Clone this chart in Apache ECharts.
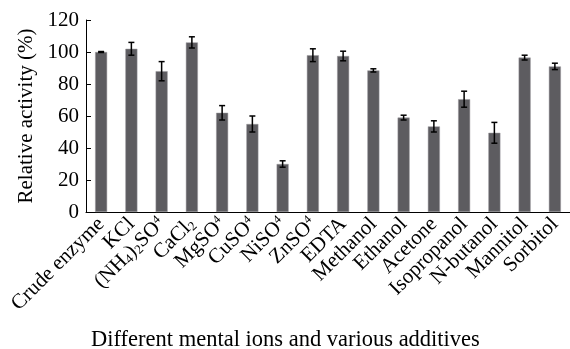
<!DOCTYPE html>
<html>
<head>
<meta charset="utf-8">
<script src="https://cdn.jsdelivr.net/npm/echarts@6/dist/echarts.min.js"></script>
<style>
    html, body { margin: 0; padding: 0; background: #fff; }
    #myChart { width: 570px; height: 349px; }
</style>
</head>
<body>
<div id="myChart"></div>
<script>
var categories = ['Crude enzyme', 'KCl', '(NH4)2SO4', 'CaCl2', 'MgSO4', 'CuSO4', 'NiSO4', 'ZnSO4',
    'EDTA', 'Methanol', 'Ethanol', 'Acetone', 'Isopropanol', 'N-butanol', 'Mannitol', 'Sorbitol'];
var activity = [100, 102, 88, 106, 62, 55, 30, 98, 97.5, 88.5, 59, 53.5, 70.5, 49.5, 96.5, 91];
var errors = [0.3, 4, 6, 3.5, 4.5, 5, 2, 4, 3, 1, 1.5, 3.5, 5, 6.5, 1.5, 2];
var yTicks = [0, 20, 40, 60, 80, 100, 120];

// 化学式的上下标
var richLabels = {
    '(NH4)2SO4': '(NH{sub|4}){sub|2}SO{sup|4}',
    'CaCl2': 'CaCl{sub|2}',
    'MgSO4': 'MgSO{sup|4}',
    'CuSO4': 'CuSO{sup|4}',
    'NiSO4': 'NiSO{sup|4}',
    'ZnSO4': 'ZnSO{sup|4}'
};

var font = '"Liberation Serif", "Times New Roman", serif';

var errorData = activity.map(function (v, i) {
    return [i, v - errors[i], v + errors[i]];
});

var myChart = echarts.init(document.getElementById('myChart'));
var option = {
    backgroundColor: '#fff',
    animation: false,
    title: {
        text: 'Different mental ions and various additives',
        left: 86,
        top: 324,
        textStyle: {fontFamily: font, fontSize: 22.5, fontWeight: 'normal', color: '#000'}
    },
    grid: {left: 86, right: 0, top: 20, bottom: 137},
    xAxis: {
        type: 'category',
        data: categories,
        boundaryGap: true,
        axisLine: {lineStyle: {color: '#000', width: 1}},
        axisTick: {inside: true, length: 4, lineStyle: {color: '#000'}},
        axisLabel: {
            interval: 0,
            rotate: 45,
            margin: 9,
            fontFamily: font,
            fontSize: 21,
            color: '#000',
            formatter: function (v) {
                return richLabels[v] || v;
            },
            rich: {
                sub: {fontFamily: font, fontSize: 13, color: '#000', padding: [9, 0, 0, 0]},
                sup: {fontFamily: font, fontSize: 12, color: '#000', padding: [0, 0, 9, 0]}
            }
        }
    },
    yAxis: {
        type: 'value',
        min: 0,
        max: 120,
        interval: 20,
        name: 'Relative activity (%)',
        nameLocation: 'middle',
        nameGap: 39,
        nameTextStyle: {fontFamily: font, fontSize: 21, color: '#000'},
        axisLine: {show: true, lineStyle: {color: '#000', width: 1}},
        axisTick: {show: true, inside: true, length: 5, lineStyle: {color: '#000'}},
        splitLine: {show: false},
        axisLabel: {
            margin: 7,
            fontFamily: font,
            fontSize: 21,
            color: '#000',
            formatter: function (v) {
                return yTicks.indexOf(v) >= 0 ? String(v) : '';
            }
        }
    },
    series: [{
        type: 'bar',
        data: activity,
        barWidth: 12,
        itemStyle: {color: '#5d5c60', borderColor: '#9a999c', borderWidth: 0.5}
    }, {
        type: 'custom',
        data: errorData,
        z: 10,
        renderItem: function (params, api) {
            var x = api.value(0);
            var low = api.coord([x, api.value(1)]);
            var high = api.coord([x, api.value(2)]);
            var cap = 3;
            var style = {stroke: '#000', lineWidth: 1.5};
            return {
                type: 'group',
                children: [
                    {type: 'line', shape: {x1: low[0], y1: low[1], x2: high[0], y2: high[1]}, style: style},
                    {type: 'line', shape: {x1: low[0] - cap, y1: low[1], x2: low[0] + cap, y2: low[1]}, style: style},
                    {type: 'line', shape: {x1: high[0] - cap, y1: high[1], x2: high[0] + cap, y2: high[1]}, style: style}
                ]
            };
        }
    }]
};
myChart.setOption(option);
</script>
</body>
</html>
